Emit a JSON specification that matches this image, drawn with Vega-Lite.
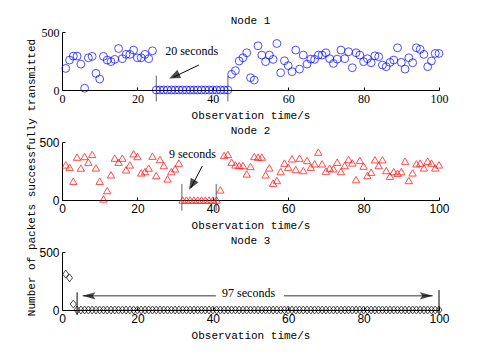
{
  "$schema": "https://vega.github.io/schema/vega-lite/v6.json",
  "padding": {"left": 25, "top": 15, "right": 5, "bottom": 5},
  "background": "white",
  "spacing": 5,
  "bounds": "full",
  "title": {"text": "Number of packets successfully transmitted", "orient": "left", "anchor": "middle", "offset": 2, "font": "Liberation Mono", "fontSize": 11, "fontWeight": "normal", "color": "black"},
  "config": {
    "view": {"stroke": null},
    "axis": {"grid": false, "domainColor": "black", "tickColor": "black", "labelColor": "black", "titleColor": "black", "domainWidth": 1, "tickWidth": 1, "tickSize": -3, "labelFontSize": 12, "labelFlush": false, "labelFont": "Liberation Sans", "titleFont": "Liberation Mono", "titleFontSize": 11, "titleFontWeight": "normal"},
    "title": {"font": "Liberation Mono", "fontSize": 11, "fontWeight": "normal", "color": "black", "anchor": "middle", "offset": 0}
  },
  "datasets": {
    "n1": [
      {"t":1,"v":186},{"t":2,"v":258},{"t":3,"v":292},{"t":4,"v":292},{"t":5,"v":223},{"t":6,"v":15},{"t":7,"v":278},{"t":8,"v":290},{"t":9,"v":143},{"t":10,"v":95},
      {"t":11,"v":290},{"t":12,"v":258},{"t":13,"v":245},{"t":14,"v":264},{"t":15,"v":358},{"t":16,"v":270},{"t":17,"v":307},{"t":18,"v":307},{"t":19,"v":344},{"t":20,"v":278},
      {"t":21,"v":278},{"t":22,"v":307},{"t":23,"v":270},{"t":24,"v":338},{"t":25,"v":0},{"t":26,"v":0},{"t":27,"v":0},{"t":28,"v":0},{"t":29,"v":0},{"t":30,"v":0},
      {"t":31,"v":0},{"t":32,"v":0},{"t":33,"v":0},{"t":34,"v":0},{"t":35,"v":0},{"t":36,"v":0},{"t":37,"v":0},{"t":38,"v":0},{"t":39,"v":0},{"t":40,"v":0},
      {"t":41,"v":0},{"t":42,"v":0},{"t":43,"v":0},{"t":44,"v":0},{"t":45,"v":135},{"t":46,"v":167},{"t":47,"v":250},{"t":48,"v":278},{"t":49,"v":321},{"t":50,"v":106},
      {"t":51,"v":86},{"t":52,"v":381},{"t":53,"v":301},{"t":54,"v":244},{"t":55,"v":301},{"t":56,"v":264},{"t":57,"v":401},{"t":58,"v":149},{"t":59,"v":252},{"t":60,"v":210},
      {"t":61,"v":158},{"t":62,"v":344},{"t":63,"v":180},{"t":64,"v":301},{"t":65,"v":223},{"t":66,"v":266},{"t":67,"v":264},{"t":68,"v":301},{"t":69,"v":301},{"t":70,"v":321},
      {"t":71,"v":270},{"t":72,"v":229},{"t":73,"v":266},{"t":74,"v":344},{"t":75,"v":270},{"t":76,"v":330},{"t":77,"v":192},{"t":78,"v":321},{"t":79,"v":301},{"t":80,"v":244},
      {"t":81,"v":270},{"t":82,"v":235},{"t":83,"v":295},{"t":84,"v":287},{"t":85,"v":215},{"t":86,"v":201},{"t":87,"v":238},{"t":88,"v":258},{"t":89,"v":364},{"t":90,"v":238},
      {"t":91,"v":180},{"t":92,"v":278},{"t":93,"v":235},{"t":94,"v":364},{"t":95,"v":350},{"t":96,"v":307},{"t":97,"v":201},{"t":98,"v":250},{"t":99,"v":315},{"t":100,"v":315}
    ],
    "n2": [
      {"t":1,"v":303},{"t":2,"v":283},{"t":3,"v":162},{"t":4,"v":370},{"t":5,"v":275},{"t":6,"v":375},{"t":7,"v":326},{"t":8,"v":393},{"t":9,"v":277},{"t":10,"v":162},
      {"t":11,"v":9},{"t":12,"v":81},{"t":13,"v":217},{"t":14,"v":361},{"t":15,"v":326},{"t":16,"v":361},{"t":17,"v":260},{"t":18,"v":303},{"t":19,"v":399},{"t":20,"v":375},
      {"t":21,"v":234},{"t":22,"v":245},{"t":23,"v":275},{"t":24,"v":378},{"t":25,"v":211},{"t":26,"v":349},{"t":27,"v":297},{"t":28,"v":182},{"t":29,"v":245},{"t":30,"v":269},
      {"t":31,"v":318},{"t":32,"v":0},{"t":33,"v":0},{"t":34,"v":0},{"t":35,"v":0},{"t":36,"v":0},{"t":37,"v":0},{"t":38,"v":0},{"t":39,"v":0},{"t":40,"v":0},
      {"t":41,"v":0},{"t":42,"v":87},{"t":43,"v":384},{"t":44,"v":393},{"t":45,"v":326},{"t":46,"v":303},{"t":47,"v":297},{"t":48,"v":297},{"t":49,"v":225},{"t":50,"v":289},
      {"t":51,"v":375},{"t":52,"v":370},{"t":53,"v":370},{"t":54,"v":217},{"t":55,"v":277},{"t":56,"v":145},{"t":57,"v":168},{"t":58,"v":245},{"t":59,"v":318},{"t":60,"v":283},
      {"t":61,"v":355},{"t":62,"v":263},{"t":63,"v":361},{"t":64,"v":254},{"t":65,"v":341},{"t":66,"v":283},{"t":67,"v":312},{"t":68,"v":413},{"t":69,"v":312},{"t":70,"v":249},
      {"t":71,"v":275},{"t":72,"v":269},{"t":73,"v":326},{"t":74,"v":245},{"t":75,"v":297},{"t":76,"v":349},{"t":77,"v":320},{"t":78,"v":176},{"t":79,"v":341},{"t":80,"v":292},
      {"t":81,"v":211},{"t":82,"v":240},{"t":83,"v":347},{"t":84,"v":297},{"t":85,"v":347},{"t":86,"v":254},{"t":87,"v":205},{"t":88,"v":245},{"t":89,"v":231},{"t":90,"v":245},
      {"t":91,"v":335},{"t":92,"v":168},{"t":93,"v":234},{"t":94,"v":312},{"t":95,"v":318},{"t":96,"v":277},{"t":97,"v":335},{"t":98,"v":318},{"t":99,"v":277},{"t":100,"v":303}
    ],
    "n3": [
      {"t":1,"v":309},{"t":2,"v":277},{"t":3,"v":51},{"t":4,"v":0},{"t":5,"v":0},{"t":6,"v":0},{"t":7,"v":0},{"t":8,"v":0},{"t":9,"v":0},{"t":10,"v":0},
      {"t":11,"v":0},{"t":12,"v":0},{"t":13,"v":0},{"t":14,"v":0},{"t":15,"v":0},{"t":16,"v":0},{"t":17,"v":0},{"t":18,"v":0},{"t":19,"v":0},{"t":20,"v":0},
      {"t":21,"v":0},{"t":22,"v":0},{"t":23,"v":0},{"t":24,"v":0},{"t":25,"v":0},{"t":26,"v":0},{"t":27,"v":0},{"t":28,"v":0},{"t":29,"v":0},{"t":30,"v":0},
      {"t":31,"v":0},{"t":32,"v":0},{"t":33,"v":0},{"t":34,"v":0},{"t":35,"v":0},{"t":36,"v":0},{"t":37,"v":0},{"t":38,"v":0},{"t":39,"v":0},{"t":40,"v":0},
      {"t":41,"v":0},{"t":42,"v":0},{"t":43,"v":0},{"t":44,"v":0},{"t":45,"v":0},{"t":46,"v":0},{"t":47,"v":0},{"t":48,"v":0},{"t":49,"v":0},{"t":50,"v":0},
      {"t":51,"v":0},{"t":52,"v":0},{"t":53,"v":0},{"t":54,"v":0},{"t":55,"v":0},{"t":56,"v":0},{"t":57,"v":0},{"t":58,"v":0},{"t":59,"v":0},{"t":60,"v":0},
      {"t":61,"v":0},{"t":62,"v":0},{"t":63,"v":0},{"t":64,"v":0},{"t":65,"v":0},{"t":66,"v":0},{"t":67,"v":0},{"t":68,"v":0},{"t":69,"v":0},{"t":70,"v":0},
      {"t":71,"v":0},{"t":72,"v":0},{"t":73,"v":0},{"t":74,"v":0},{"t":75,"v":0},{"t":76,"v":0},{"t":77,"v":0},{"t":78,"v":0},{"t":79,"v":0},{"t":80,"v":0},
      {"t":81,"v":0},{"t":82,"v":0},{"t":83,"v":0},{"t":84,"v":0},{"t":85,"v":0},{"t":86,"v":0},{"t":87,"v":0},{"t":88,"v":0},{"t":89,"v":0},{"t":90,"v":0},
      {"t":91,"v":0},{"t":92,"v":0},{"t":93,"v":0},{"t":94,"v":0},{"t":95,"v":0},{"t":96,"v":0},{"t":97,"v":0},{"t":98,"v":0},{"t":99,"v":0},{"t":100,"v":0}
    ],
    "l1": [{"t":25,"v":124,"v2":-100},{"t":44,"v":124,"v2":-100}],
    "l2": [{"t":31.8,"v":139,"v2":-93},{"t":40.9,"v":139,"v2":-93}],
    "l3": [{"t":4,"v":152,"v2":-43},{"t":100,"v":171,"v2":-26}],
    "a1": [{"t":36.3,"v":215,"t2":29.5,"v2":110}],
    "a2": [{"t":37.2,"v":292,"t2":34.2,"v2":105}],
    "a3": [{"t":5.5,"v":122,"t2":40.8,"v2":122},{"t":58.9,"v":122,"t2":98.3,"v2":122}],
    "h1": [{"t":28.4,"v":100}],
    "h2": [{"t":33.7,"v":89}],
    "h3l": [{"t":5.4,"v":122}],
    "h3r": [{"t":98.4,"v":122}],
    "x1": [{"t":34.4,"v":338,"label":"20 seconds"}],
    "x2": [{"t":34.6,"v":399,"label":"9 seconds"}],
    "x3": [{"t":49.5,"v":150,"label":"97 seconds"}]
  },
  "vconcat": [
    {
      "width": 377, "height": 58,
      "title": {"text": "Node 1", "offset": 0},
      "encoding": {
        "x": {"field": "t", "type": "quantitative", "scale": {"domain": [0, 100], "nice": false}, "axis": {"values": [0, 20, 40, 60, 80, 100], "title": "Observation time/s", "labelFont": "Liberation Serif", "labelPadding": 6, "titlePadding": 5}},
        "y": {"field": "v", "type": "quantitative", "scale": {"domain": [0, 500], "nice": false}, "axis": {"values": [0, 500], "title": null, "labelFont": "Liberation Serif", "labelPadding": 6}}
      },
      "layer": [
        {"data": {"name": "l1"}, "mark": {"type": "rule", "color": "#666", "strokeWidth": 1}, "encoding": {"y2": {"field": "v2"}}},
        {"data": {"name": "a1"}, "mark": {"type": "rule", "color": "black", "strokeWidth": 1}, "encoding": {"x2": {"field": "t2"}, "y2": {"field": "v2"}}},
        {"data": {"name": "h1"}, "mark": {"type": "point", "shape": "M0,0 L-1,-0.4 L-1,0.4 Z", "filled": true, "color": "black", "size": 500, "angle": 156, "strokeWidth": 0}},
        {"data": {"name": "x1"}, "mark": {"type": "text", "font": "Liberation Serif", "fontSize": 12, "color": "black", "align": "center", "baseline": "middle"}, "encoding": {"text": {"field": "label"}}},
        {"data": {"name": "n1"}, "mark": {"type": "point", "shape": "circle", "filled": false, "color": "#0000ff", "size": 62, "strokeWidth": 1}}
      ]
    },
    {
      "width": 377, "height": 58,
      "title": {"text": "Node 2", "offset": 0},
      "encoding": {
        "x": {"field": "t", "type": "quantitative", "scale": {"domain": [0, 100], "nice": false}, "axis": {"values": [0, 20, 40, 60, 80, 100], "title": "Observation time/s", "labelPadding": 6, "titlePadding": 5}},
        "y": {"field": "v", "type": "quantitative", "scale": {"domain": [0, 500], "nice": false}, "axis": {"values": [0, 500], "title": null, "labelPadding": 6}}
      },
      "layer": [
        {"data": {"name": "l2"}, "mark": {"type": "rule", "color": "#666", "strokeWidth": 1}, "encoding": {"y2": {"field": "v2"}}},
        {"data": {"name": "a2"}, "mark": {"type": "rule", "color": "black", "strokeWidth": 1}, "encoding": {"x2": {"field": "t2"}, "y2": {"field": "v2"}}},
        {"data": {"name": "h2"}, "mark": {"type": "point", "shape": "M0,0 L-1,-0.4 L-1,0.4 Z", "filled": true, "color": "black", "size": 500, "angle": 120, "strokeWidth": 0}},
        {"data": {"name": "x2"}, "mark": {"type": "text", "font": "Liberation Serif", "fontSize": 12, "color": "black", "align": "center", "baseline": "middle"}, "encoding": {"text": {"field": "label"}}},
        {"data": {"name": "n2"}, "mark": {"type": "point", "shape": "triangle-up", "filled": false, "color": "#ff0000", "size": 55, "strokeWidth": 1}}
      ]
    },
    {
      "width": 377, "height": 58,
      "title": {"text": "Node 3", "offset": 0},
      "encoding": {
        "x": {"field": "t", "type": "quantitative", "scale": {"domain": [0, 100], "nice": false}, "axis": {"values": [0, 20, 40, 60, 80, 100], "title": "Observation time/s", "labelPadding": 6, "titlePadding": 5}},
        "y": {"field": "v", "type": "quantitative", "scale": {"domain": [0, 500], "nice": false}, "axis": {"values": [0, 500], "title": null, "labelPadding": 6}}
      },
      "layer": [
        {"data": {"name": "l3"}, "mark": {"type": "rule", "color": "black", "strokeWidth": 1}, "encoding": {"y2": {"field": "v2"}}},
        {"data": {"name": "a3"}, "mark": {"type": "rule", "color": "#333", "strokeWidth": 1}, "encoding": {"x2": {"field": "t2"}, "y2": {"field": "v2"}}},
        {"data": {"name": "h3l"}, "mark": {"type": "point", "shape": "M0,0 L-1,-0.28 L-0.8,0 L-1,0.28 Z", "filled": true, "color": "black", "size": 700, "angle": 180, "strokeWidth": 0}},
        {"data": {"name": "h3r"}, "mark": {"type": "point", "shape": "M0,0 L-1,-0.28 L-0.8,0 L-1,0.28 Z", "filled": true, "color": "black", "size": 700, "angle": 0, "strokeWidth": 0}},
        {"data": {"name": "x3"}, "mark": {"type": "text", "font": "Liberation Serif", "fontSize": 12, "color": "black", "align": "center", "baseline": "middle"}, "encoding": {"text": {"field": "label"}}},
        {"data": {"name": "n3"}, "mark": {"type": "point", "shape": "M0,-1 L0.75,0 L0,1 L-0.75,0 Z", "filled": false, "color": "black", "size": 64, "strokeWidth": 1}}
      ]
    }
  ]
}
